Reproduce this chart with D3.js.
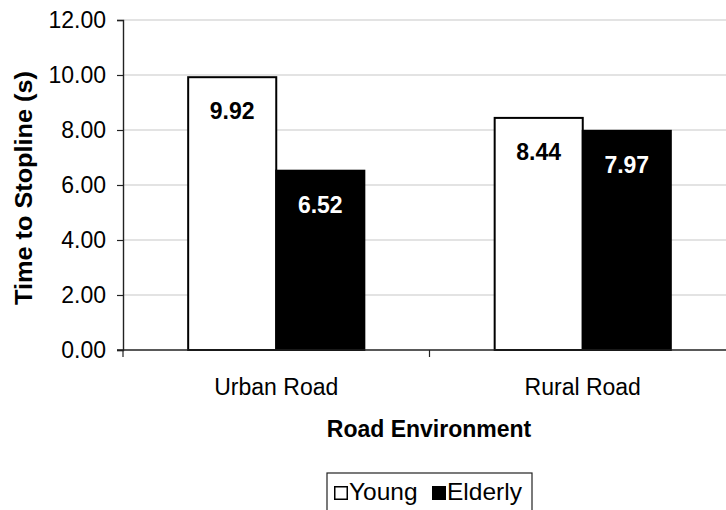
<!DOCTYPE html>
<html>
<head>
<meta charset="utf-8">
<script src="https://cdn.jsdelivr.net/npm/d3@7"></script>
<style>
  html, body { margin: 0; padding: 0; background: #fff; }
  svg { display: block; font-family: "Liberation Sans", Arial, sans-serif; }
</style>
</head>
<body>
<svg id="chart" width="726" height="510"></svg>
<script>
// Mean time to stopline by road environment and driver group
const categories = ["Urban Road", "Rural Road"];
const seriesNames = ["Young", "Elderly"];
const young = [9.92, 8.44];
const elderly = [6.52, 7.97];
const yTicks = [0, 2, 4, 6, 8, 10, 12];

const seriesValues = [young, elderly];
const fills = ["#ffffff", "#000000"];
const labelColors = ["#000000", "#ffffff"];

const svg = d3.select("#chart");
const plot = { left: 123, right: 736, top: 20, bottom: 350 };

const x0 = d3.scaleBand().domain(categories).range([plot.left, plot.right]).padding(0);
const x1 = d3.scaleBand().domain(seriesNames).range([0, x0.bandwidth()])
  .paddingInner(0).paddingOuter(0.74);
const y = d3.scaleLinear().domain([0, 12]).range([plot.bottom, plot.top]);

// horizontal gridlines
svg.append("g")
  .selectAll("line")
  .data(yTicks.filter(t => t > 0))
  .join("line")
  .attr("x1", plot.left).attr("x2", plot.right)
  .attr("y1", d => y(d)).attr("y2", d => y(d))
  .attr("stroke", "#c8c8c8").attr("stroke-width", 1.2);

// bars
const groups = svg.append("g")
  .selectAll("g")
  .data(categories)
  .join("g")
  .attr("transform", d => `translate(${x0(d)},0)`);

groups.selectAll("rect")
  .data((c, ci) => seriesNames.map((s, si) => ({ s, si, v: seriesValues[si][ci] })))
  .join("rect")
  .attr("x", d => x1(d.s))
  .attr("y", d => y(d.v))
  .attr("width", x1.bandwidth())
  .attr("height", d => y(0) - y(d.v))
  .attr("fill", d => fills[d.si])
  .attr("stroke", "#000")
  .attr("stroke-width", 2);

// value labels inside the bar tops
groups.selectAll("text.val")
  .data((c, ci) => seriesNames.map((s, si) => ({ s, si, v: seriesValues[si][ci] })))
  .join("text")
  .attr("class", "val")
  .attr("x", d => x1(d.s) + x1.bandwidth() / 2)
  .attr("y", d => y(d.v) + 42)
  .attr("text-anchor", "middle")
  .attr("font-size", 23)
  .attr("font-weight", "bold")
  .attr("fill", d => labelColors[d.si])
  .text(d => d.v.toFixed(2));

// y axis
const yAxis = d3.axisLeft(y).tickValues(yTicks).tickSize(6).tickPadding(11)
  .tickFormat(d3.format(".2f"));
const gy = svg.append("g").attr("transform", `translate(${plot.left},0)`).call(yAxis);
gy.select(".domain").attr("stroke", "#222").attr("stroke-width", 1.4);
gy.selectAll(".tick line").attr("stroke", "#222").attr("stroke-width", 1.2);
gy.selectAll(".tick text").attr("font-size", 23).attr("fill", "#000")
  .attr("font-family", "'Liberation Sans', Arial, sans-serif");

// x axis baseline with category separators
const gx = svg.append("g");
gx.append("line")
  .attr("x1", plot.left - 6).attr("x2", plot.right)
  .attr("y1", y(0)).attr("y2", y(0))
  .attr("stroke", "#222").attr("stroke-width", 1.4);
const sepX = categories.map(c => x0(c)).concat([x0(categories[categories.length - 1]) + x0.bandwidth()]);
gx.selectAll("line.sep")
  .data(sepX)
  .join("line")
  .attr("class", "sep")
  .attr("x1", d => d).attr("x2", d => d)
  .attr("y1", y(0)).attr("y2", y(0) + 7)
  .attr("stroke", "#222").attr("stroke-width", 1.2);
gx.selectAll("text")
  .data(categories)
  .join("text")
  .attr("x", d => x0(d) + x0.bandwidth() / 2)
  .attr("y", 395)
  .attr("text-anchor", "middle")
  .attr("font-size", 23)
  .text(d => d);

// axis titles
svg.append("text")
  .attr("x", 429).attr("y", 437)
  .attr("text-anchor", "middle")
  .attr("font-size", 23).attr("font-weight", "bold")
  .text("Road Environment");

svg.append("text")
  .attr("transform", "translate(32,188) rotate(-90)")
  .attr("text-anchor", "middle")
  .attr("font-size", 23).attr("font-weight", "bold")
  .attr("textLength", 234).attr("lengthAdjust", "spacingAndGlyphs")
  .text("Time to Stopline (s)");

// legend
const legend = svg.append("g");
legend.append("rect")
  .attr("x", 327).attr("y", 473).attr("width", 205).attr("height", 50)
  .attr("fill", "#fff").attr("stroke", "#222").attr("stroke-width", 1.2);
const legendX = [334, 432];
const items = legend.selectAll("g")
  .data(seriesNames)
  .join("g")
  .attr("transform", (d, i) => `translate(${legendX[i]},486)`);
items.append("rect")
  .attr("x", 0.75).attr("y", 0.75).attr("width", 12.5).attr("height", 12.5)
  .attr("fill", (d, i) => fills[i]).attr("stroke", "#000").attr("stroke-width", 1.5);
items.append("text")
  .attr("x", 15).attr("y", 13.5)
  .attr("font-size", 24.5)
  .text(d => d);
</script>
</body>
</html>
